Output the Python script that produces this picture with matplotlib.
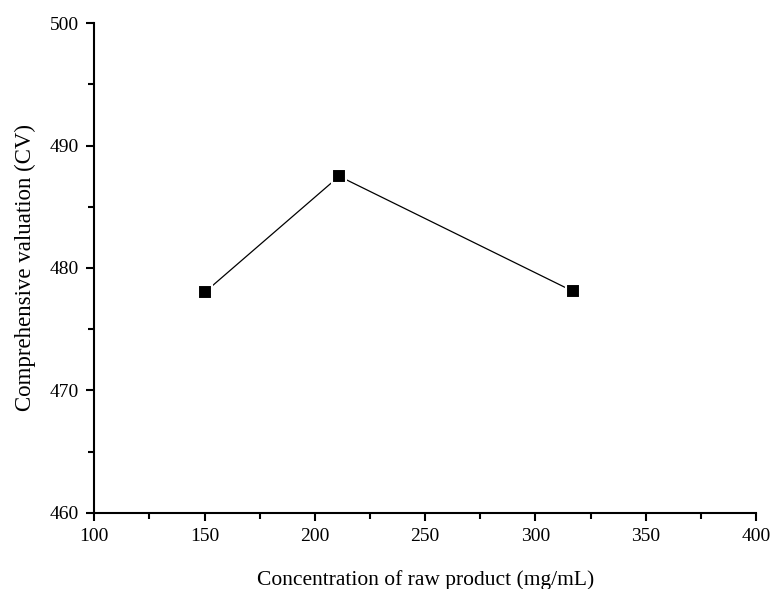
import numpy as np
import matplotlib.pyplot as plt
from matplotlib.ticker import MultipleLocator

plt.rcParams['font.family'] = ['Liberation Serif', 'DejaVu Serif']

# дані
concentration = [150, 211, 317]
cv_values = [478.0, 487.5, 478.1]

fig = plt.figure(figsize=(7.73, 5.89), dpi=100)
ax = fig.add_axes([0.122, 0.1295, 0.856, 0.831])

ax.plot(concentration, cv_values, color='black', linewidth=0.9,
        marker='s', markersize=10, markerfacecolor='black',
        markeredgecolor='white', markeredgewidth=1.5)

ax.set_xlim(100, 400)
ax.set_ylim(460, 500)
ax.xaxis.set_major_locator(MultipleLocator(50))
ax.xaxis.set_minor_locator(MultipleLocator(25))
ax.yaxis.set_major_locator(MultipleLocator(10))
ax.yaxis.set_minor_locator(MultipleLocator(5))

for side in ['top', 'right']:
    ax.spines[side].set_visible(False)
for side in ['left', 'bottom']:
    ax.spines[side].set_linewidth(1.5)

ax.tick_params(which='major', direction='out', length=6, width=1.5, labelsize=14, pad=5)
ax.tick_params(which='minor', direction='out', length=4, width=1.5)

ax.set_xlabel('Concentration of raw product (mg/mL)', fontsize=15.5, labelpad=18)
ax.set_ylabel('Comprehensive valuation (CV)', fontsize=16.5, labelpad=10)

fig.savefig('out.png', dpi=100)
